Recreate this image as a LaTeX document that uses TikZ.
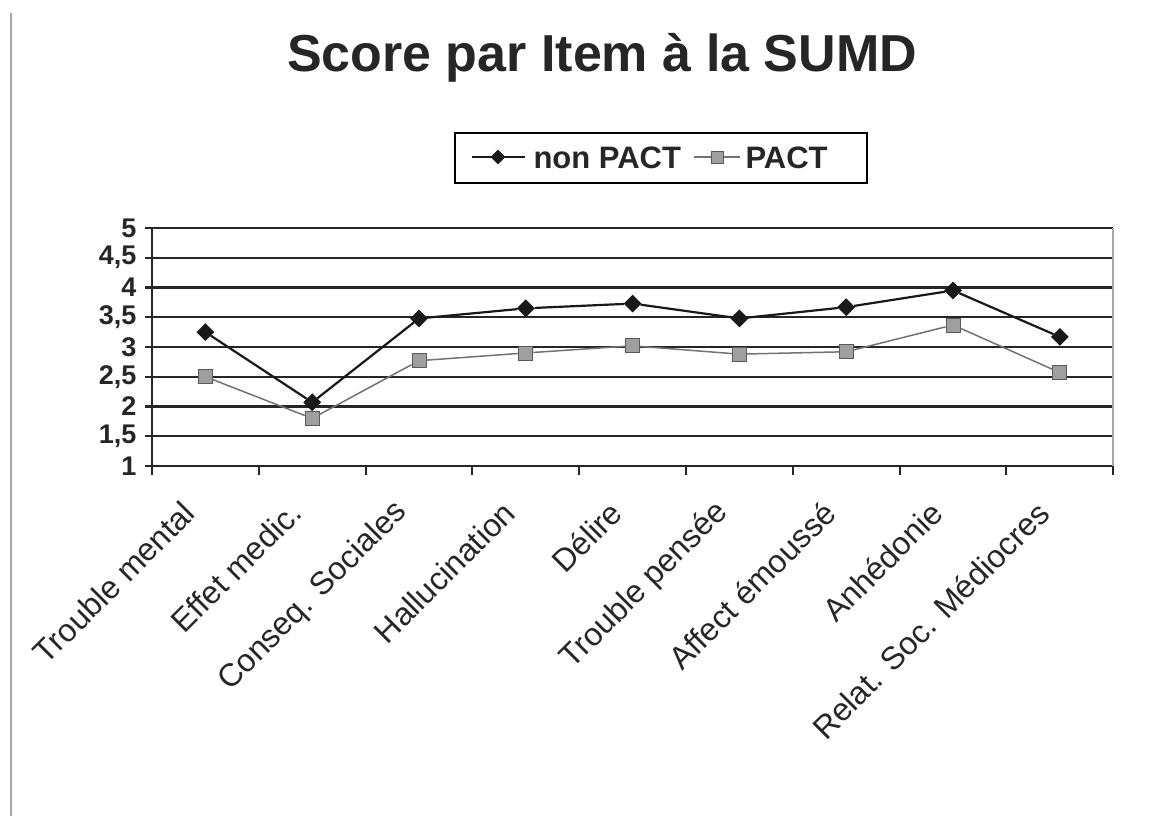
\documentclass[tikz,border=0pt]{standalone}
\usepackage{fontspec}
\setmainfont{Liberation Sans}
\usetikzlibrary{shapes.geometric}
\begin{document}
\begin{tikzpicture}[x=1pt,y=-1pt,
	gridline/.style={line width=2.2pt,black!85},
	nonpact/.style={diamond,fill=black!90,inner sep=0pt,minimum size=18pt},
	pact/.style={rectangle,fill=gray!75,draw=black!65,line width=0.9pt,inner sep=0pt,minimum size=14pt},
	ylab/.style={anchor=east,text=black!85,font=\fontsize{27}{27}\selectfont\bfseries},
	xlab/.style={anchor=east,rotate=45,text=black!85,font=\fontsize{32}{32}\selectfont}]
	\useasboundingbox (0,0) rectangle (1170,816);
	\fill[white] (0,0) rectangle (1170,816);
	\draw[gray!70,line width=1.5pt] (11,13) -- (11,816);
	% title
	\node[anchor=base,text=black!85] (title) at (602,72) {\fontsize{52}{52}\selectfont\bfseries Score par Item à la SUMD};
	% legend
	\node[draw,line width=1.5pt,minimum width=412pt,minimum height=50pt] (legend) at (661,158) {};
	\coordinate (la) at (472,157); \coordinate (lb) at (525,157);
	\coordinate (lc) at (694,157); \coordinate (ld) at (740,157);
	\draw[line width=2pt,black!90] (la) -- (lb);
	\node[nonpact,minimum size=15pt] (ln) at (498,157) {};
	\draw[line width=1.5pt,black!55] (lc) -- (ld);
	\node[pact,minimum size=12pt] (lp) at (717,157) {};
	\node[anchor=base west,text=black!85,font=\fontsize{31}{31}\selectfont\bfseries] (tn) at (530,168) {non PACT};
	\node[anchor=base west,text=black!85,font=\fontsize{31}{31}\selectfont\bfseries] (tp) at (742,168) {PACT};
	% grid and value axis
	\foreach \t [count=\i from 0] in {1,{1,5},2,{2,5},3,{3,5},4,{4,5},5} {
		\pgfmathsetmacro\y{466-\i*29.75}
		\draw[gridline] (145,\y) -- (1113,\y);
		\node[ylab] (y\i) at (140,\y) {\t};
	}
	\draw[gray!70,line width=1.2pt] (1113,228) -- (1113,466);
	\draw[line width=2pt,black!85] (152,228) -- (152,466);
	% category axis
	\foreach \k in {0,...,9}
		\draw[line width=2pt,black!85] (152+106.8*\k,466) -- (152+106.8*\k,475);
	\foreach \t [count=\i] in {Trouble mental,Effet medic.,Conseq. Sociales,Hallucination,D\'elire,Trouble pens\'ee,Affect \'emouss\'e,Anh\'edonie,Relat. Soc. M\'ediocres} {
		\pgfmathsetmacro\cx{152+106.8*(\i-0.5)}
		\node[xlab] (c\i) at (\cx-14,505) {\t};
	}
	% data
	\foreach \a/\b [count=\i] in {3.25/2.5,2.07/1.8,3.48/2.77,3.65/2.9,3.73/3.02,3.48/2.88,3.67/2.92,3.95/3.37,3.17/2.57} {
		\pgfmathsetmacro\cx{152+106.8*(\i-0.5)}
		\pgfmathsetmacro\ya{466-(\a-1)*59.5}
		\pgfmathsetmacro\yb{466-(\b-1)*59.5}
		\node[pact] (p\i) at (\cx,\yb) {};
		\coordinate (q\i) at (\cx,\ya);
	}
	\foreach \i [count=\j from 2] in {1,...,8}
		\draw[line width=1.5pt,black!55] (p\i) -- (p\j);
	\foreach \i in {1,...,9}
		\node[nonpact] (n\i) at (q\i) {};
	\foreach \i [count=\j from 2] in {1,...,8}
		\draw[line width=2.2pt,black!90] (n\i) -- (n\j);
\end{tikzpicture}
\end{document}
